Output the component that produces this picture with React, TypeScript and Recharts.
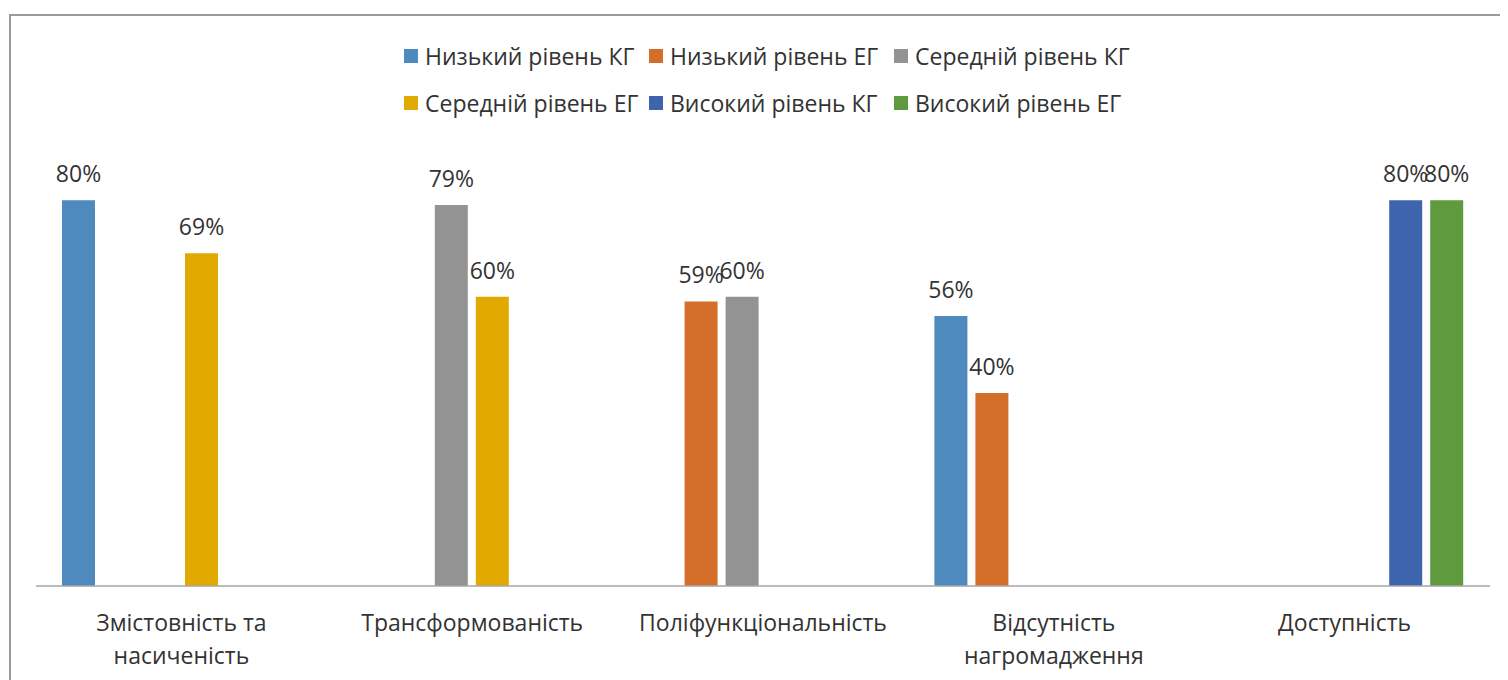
import React from "react";
import { BarChart, Bar, XAxis, YAxis, LabelList } from "recharts";

const categories = [
  "Змістовність та насиченість",
  "Трансформованість",
  "Поліфункціональність",
  "Відсутність нагромадження",
  "Доступність",
];

// how each category label wraps under the axis
const tickLines: Record<string, string[]> = {
  "Змістовність та насиченість": ["Змістовність та", "насиченість"],
  "Трансформованість": ["Трансформованість"],
  "Поліфункціональність": ["Поліфункціональність"],
  "Відсутність нагромадження": ["Відсутність", "нагромадження"],
  "Доступність": ["Доступність"],
};

const lowKG = [80, null, null, 56, null];
const lowEG = [null, null, 59, 40, null];
const midKG = [null, 79, 60, null, null];
const midEG = [69, 60, null, null, null];
const highKG = [null, null, null, null, 80];
const highEG = [null, null, null, null, 80];

const series = [
  { key: "lowKG", name: "Низький рівень КГ", color: "#4F8ABE", values: lowKG },
  { key: "lowEG", name: "Низький рівень ЕГ", color: "#D36E2B", values: lowEG },
  { key: "midKG", name: "Середній рівень КГ", color: "#939393", values: midKG },
  { key: "midEG", name: "Середній рівень ЕГ", color: "#E2AA00", values: midEG },
  { key: "highKG", name: "Високий рівень КГ", color: "#3D64AD", values: highKG },
  { key: "highEG", name: "Високий рівень ЕГ", color: "#609A3F", values: highEG },
];

const data = categories.map((name, i) => {
  const row: Record<string, any> = { name };
  series.forEach((s) => {
    row[s.key] = s.values[i];
  });
  return row;
});

const FONT = "'Open Sans', sans-serif";
const FS = 23;
const TEXT = "#333333";

function CategoryTick({ x, y, payload }: any) {
  const lines = tickLines[payload.value] || [payload.value];
  return (
    <text x={x} y={y} textAnchor="middle" fill={TEXT} fontSize={FS} fontFamily={FONT}>
      {lines.map((l, i) => (
        <tspan key={i} x={x} dy={i === 0 ? 37 : 33}>
          {l}
        </tspan>
      ))}
    </text>
  );
}

function Legend6() {
  return (
    <div
      style={{
        position: "absolute",
        left: 396,
        top: 24,
        display: "grid",
        gridTemplateColumns: "245px 245px 245px",
        fontFamily: FONT,
        fontSize: FS,
        color: TEXT,
      }}
    >
      {series.map((s) => (
        <div key={s.key} style={{ display: "flex", alignItems: "center", height: 47, whiteSpace: "nowrap" }}>
          <span
            style={{
              display: "inline-block",
              width: 14,
              height: 14,
              background: s.color,
              marginRight: 7,
            }}
          />
          <span>{s.name}</span>
        </div>
      ))}
    </div>
  );
}

export default function App() {
  return (
    <div style={{ position: "relative", width: 1500, height: 672, overflow: "hidden", background: "#fff" }}>
      <div
        style={{
          position: "absolute",
          left: 1,
          top: 6,
          width: 1600,
          height: 800,
          border: "2px solid #9a9a9a",
        }}
      />
      <Legend6 />
      <div style={{ position: "absolute", left: 0, top: 0 }}>
        <BarChart
          width={1500}
          height={672}
          data={data}
          margin={{ top: 144, right: 18, bottom: 14, left: 28 }}
          barSize={33}
          barGap={8}
          style={{ fontFamily: FONT }}
        >
          <XAxis
            dataKey="name"
            tickLine={false}
            axisLine={{ stroke: "#a6a6a6", strokeWidth: 1.5 }}
            tick={<CategoryTick />}
            height={80}
            interval={0}
          />
          <YAxis hide domain={[0, 90]} />
          {series.map((s) => (
            <Bar key={s.key} dataKey={s.key} name={s.name} fill={s.color} isAnimationActive={false}>
              <LabelList
                dataKey={s.key}
                position="top"
                offset={18}
                fill={TEXT}
                fontSize={FS}
                fontFamily={FONT}
                formatter={(v: any) => (v == null ? "" : `${v}%`)}
              />
            </Bar>
          ))}
        </BarChart>
      </div>
    </div>
  );
}
